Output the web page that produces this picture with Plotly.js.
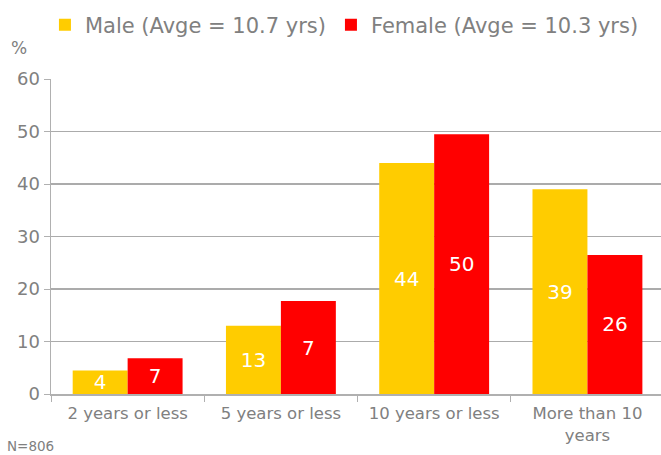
<!DOCTYPE html>
<html>
<head>
<meta charset="utf-8">
<script src="https://cdn.plot.ly/plotly-3.0.1.min.js"></script>
<style>html,body{margin:0;padding:0;background:#fff;}#chart{width:661px;height:455px;}</style>
</head>
<body>
<div id="chart"></div>
<script>
const categories = ["2 years or less", "5 years or less", "10 years or less", "More than 10<br>years"];
const maleValues = [4.5, 13, 44, 39];
const femaleValues = [6.8, 17.7, 49.5, 26.5];
const maleLabels = ["4", "13", "44", "39"];
const femaleLabels = ["7", "7", "50", "26"];
const maleName = "Male (Avge = 10.7 yrs)";
const femaleName = "Female (Avge = 10.3 yrs)";
const yTicks = [0, 10, 20, 30, 40, 50, 60];

const font = "DejaVu Sans, Verdana, sans-serif";
const grey = "#808080";

const traces = [
  {type: "bar", name: maleName, x: categories, y: maleValues, text: maleLabels,
   textposition: "inside", insidetextanchor: "middle", textangle: 0,
   textfont: {color: "#ffffff", size: 20, family: font},
   marker: {color: "#FFCC00"}, hoverinfo: "skip"},
  {type: "bar", name: femaleName, x: categories, y: femaleValues, text: femaleLabels,
   textposition: "inside", insidetextanchor: "middle", textangle: 0,
   textfont: {color: "#ffffff", size: 20, family: font},
   marker: {color: "#FF0000"}, hoverinfo: "skip"}
];

const layout = {
  width: 661, height: 455,
  margin: {l: 51, r: 0, t: 79, b: 61},
  paper_bgcolor: "#ffffff", plot_bgcolor: "#ffffff",
  font: {family: font, color: grey},
  barmode: "group", bargap: 0.283, bargroupgap: 0,
  uniformtext: {minsize: 20, mode: "show"},
  showlegend: true,
  legend: {orientation: "h", xref: "container", yref: "container", x: 0.068, y: 0.99,
           xanchor: "left", yanchor: "top",
           font: {size: 21, color: grey}, traceorder: "normal", itemwidth: 30},
  xaxis: {type: "category", range: [-0.5, 3.48], tickson: "boundaries", ticks: "outside", ticklen: 6,
          tickcolor: "#b0b0b0", showline: true, linecolor: "#b0b0b0", linewidth: 1.5,
          showgrid: false, tickfont: {size: 16.5, color: grey}, ticklabelstandoff: 4, automargin: false},
  yaxis: {range: [0, 60], tickvals: yTicks, ticks: "outside", ticklen: 6, tickcolor: "#b0b0b0",
          showline: true, linecolor: "#b0b0b0", linewidth: 1.5,
          showgrid: true, gridcolor: "#ababab", gridwidth: 1.2, zeroline: false,
          tickfont: {size: 18, color: grey}, automargin: false},
  annotations: [
    {text: "%", xref: "paper", yref: "paper", x: -0.069, y: 1.098, xanchor: "left", yanchor: "middle",
     showarrow: false, font: {size: 17, color: grey}},
    {text: "N=806", xref: "paper", yref: "paper", x: -0.076, y: -0.197, xanchor: "left", yanchor: "bottom",
     showarrow: false, font: {size: 13.5, color: grey}}
  ]
};

Plotly.newPlot("chart", traces, layout, {displayModeBar: false, staticPlot: true});
</script>
</body>
</html>
